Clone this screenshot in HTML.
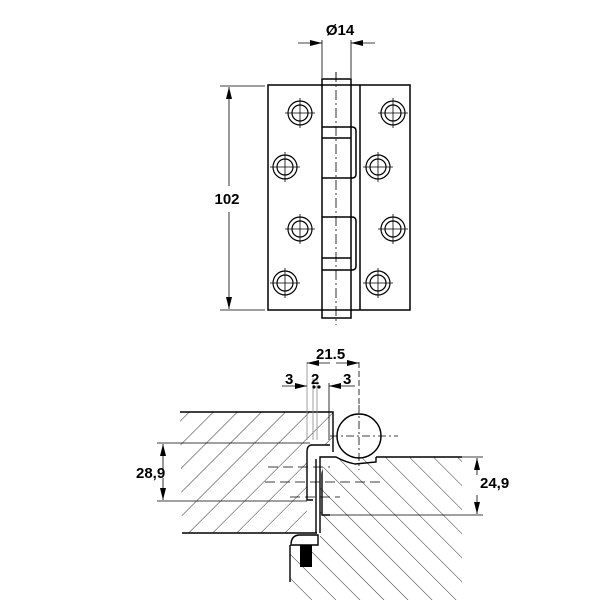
<!DOCTYPE html>
<html><head><meta charset="utf-8"><style>body{margin:0;background:#fff}svg{display:block}</style></head><body>
<svg width="601" height="600" viewBox="0 0 601 600" xmlns="http://www.w3.org/2000/svg" font-family="Liberation Sans, sans-serif">
<defs>
<pattern id="h1" patternUnits="userSpaceOnUse" width="17" height="17" patternTransform="rotate(45)"><line x1="0" y1="0" x2="0" y2="17" stroke="#000" stroke-width="0.8"/></pattern>
<pattern id="h2" patternUnits="userSpaceOnUse" width="17" height="17" patternTransform="rotate(-45)"><line x1="0" y1="0" x2="0" y2="17" stroke="#000" stroke-width="0.8"/></pattern>
<marker id="ar" markerWidth="12" markerHeight="8" refX="12" refY="4" orient="auto" markerUnits="userSpaceOnUse"><path d="M0,1 L12,4 L0,7z" fill="#000"/></marker>
</defs>
<g fill="none" stroke="#000" stroke-width="1.5">
<rect x="268" y="85" width="142" height="225"/>
<rect x="322" y="79" width="29" height="239"/>
<line x1="360" y1="85" x2="360" y2="310"/>
<path d="M322,127 H352 Q356,127 356,131 V174 Q356,178 352,178 H322"/>
<line x1="322" y1="138" x2="351" y2="138"/>
<path d="M322,217 H352 Q356,217 356,221 V266 Q356,270 352,270 H322"/>
<line x1="322" y1="258" x2="351" y2="258"/>
</g>
<line x1="336" y1="72" x2="336" y2="325" stroke="#000" stroke-width="0.8" stroke-dasharray="10,3,2,3"/>
<g fill="none" stroke="#000" stroke-width="1.2">
<circle cx="300" cy="113" r="12"/><circle cx="300" cy="113" r="8"/>
<circle cx="285" cy="167" r="12"/><circle cx="285" cy="167" r="8"/>
<circle cx="300" cy="229" r="12"/><circle cx="300" cy="229" r="8"/>
<circle cx="285" cy="283" r="12"/><circle cx="285" cy="283" r="8"/>
<circle cx="393" cy="113" r="12"/><circle cx="393" cy="113" r="8"/>
<circle cx="378" cy="167" r="12"/><circle cx="378" cy="167" r="8"/>
<circle cx="393" cy="229" r="12"/><circle cx="393" cy="229" r="8"/>
<circle cx="378" cy="283" r="12"/><circle cx="378" cy="283" r="8"/>
</g>
<g stroke="#000" stroke-width="0.8">
<path d="M285,113h30M300,98v30M270,167h30M285,152v30M285,229h30M300,214v30M270,283h30M285,268v30M378,113h30M393,98v30M363,167h30M378,152v30M378,229h30M393,214v30M363,283h30M378,268v30M336,72v8"/>
<line x1="322" y1="40" x2="322" y2="78"/><line x1="351" y1="40" x2="351" y2="78"/>
<line x1="298" y1="43" x2="322" y2="43" marker-end="url(#ar)"/><line x1="375" y1="43" x2="351" y2="43" marker-end="url(#ar)"/>
<line x1="220" y1="86" x2="265" y2="86"/><line x1="220" y1="310" x2="265" y2="310"/>
<line x1="229" y1="186" x2="229" y2="87" marker-end="url(#ar)"/><line x1="229" y1="212" x2="229" y2="309" marker-end="url(#ar)"/>
</g>
<text x="340" y="35" font-size="15" font-weight="bold" text-anchor="middle">Ø14</text>
<text x="227" y="204" font-size="15" font-weight="bold" text-anchor="middle">102</text>
<path d="M180,412 H333 V452 H313 V500 H307 V533 H182 Z" fill="url(#h1)"/>
<path d="M376,457 H462 V600 H290 V545 H320 V457 Z" fill="url(#h2)"/>
<g fill="none" stroke="#000" stroke-width="1.4">
<path d="M180,412 H333 V452"/>
<path d="M182,533 H317"/>
<path d="M376,457 H462"/>
<path d="M290,545 V582"/>
<path d="M322,460 V515 H330"/>
<circle cx="359" cy="436" r="22" fill="#fff"/>
<path d="M330,445 H312 Q307,445 307,452 V500 H313" fill="#fff"/>
<path d="M376,457 V462 L355,464 Q345,462 336,457 H320 V533"/>
<path d="M316,459 V533"/>
<path d="M291,545 Q291,535 300,535 H318 V545 Z" fill="#fff"/>
</g>
<rect x="300" y="545" width="12" height="22" fill="#000"/>
<g stroke="#000" stroke-width="0.8" fill="none">
<path d="M359,405 V470 M330,436 H398" stroke-dasharray="8,3,2,3"/>
<path d="M268,467 H330 M265,482 H380 M290,497 H340" stroke-dasharray="10,5"/>
<line x1="157" y1="443" x2="310" y2="443"/><line x1="157" y1="501" x2="307" y2="501"/>
<line x1="163" y1="470" x2="163" y2="444" marker-end="url(#ar)"/><line x1="163" y1="478" x2="163" y2="500" marker-end="url(#ar)"/>
<line x1="460" y1="457" x2="483" y2="457"/><line x1="330" y1="515" x2="483" y2="515"/>
<line x1="477" y1="475" x2="477" y2="458" marker-end="url(#ar)"/><line x1="477" y1="495" x2="477" y2="514" marker-end="url(#ar)"/>
<line x1="307" y1="362" x2="307" y2="440" stroke="#888"/><line x1="313" y1="378" x2="313" y2="440" stroke="#888"/>
<line x1="317" y1="378" x2="317" y2="440" stroke="#888"/><line x1="329" y1="383" x2="329" y2="440"/>
<line x1="359" y1="362" x2="359" y2="405" stroke-dasharray="6,3"/>
<line x1="330" y1="363" x2="307" y2="363" marker-end="url(#ar)"/><line x1="336" y1="363" x2="359" y2="363" marker-end="url(#ar)"/>
<line x1="282" y1="386" x2="307" y2="386" marker-end="url(#ar)"/><line x1="355" y1="386" x2="329" y2="386" marker-end="url(#ar)"/>
</g>
<circle cx="314" cy="387" r="1.6"/><circle cx="319" cy="387" r="1.6"/>
<g font-size="15" font-weight="bold">
<text x="316" y="359">21.5</text>
<text x="285" y="384">3</text>
<text x="311" y="384">2</text>
<text x="343" y="384">3</text>
<text x="136" y="478">28,9</text>
<text x="480" y="488">24,9</text>
</g>
</svg>
</body></html>
